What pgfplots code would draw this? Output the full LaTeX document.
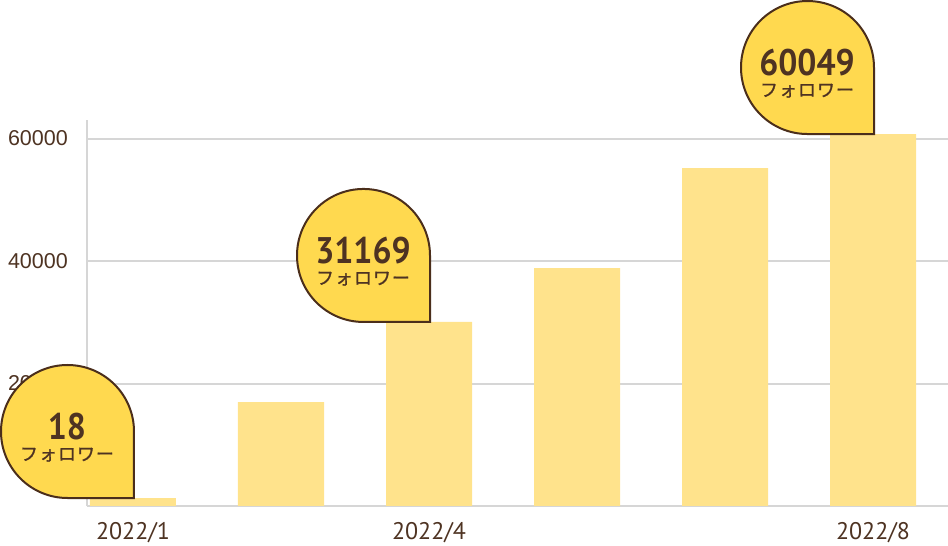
\documentclass[border=0pt]{standalone}
\usepackage{pgfplots}
\pgfplotsset{compat=1.18}
\usepackage{fontspec}
\setmainfont{PT Sans}
\newfontfamily\tickfont{Liberation Sans}
\newfontfamily\jp{Noto Sans CJK JP}[FakeBold=1.2]
\definecolor{barc}{HTML}{FFE38C}
\definecolor{callc}{HTML}{FFD94F}
\definecolor{brownc}{HTML}{4B2E1B}
\definecolor{textc}{HTML}{4E3322}
\definecolor{gridc}{HTML}{D6D6D6}
\begin{document}
\begin{tikzpicture}
\useasboundingbox (0pt,0pt) rectangle (948pt,546pt);
\begin{axis}[
  at={(87pt,40pt)}, anchor=south west,
  scale only axis, width=861pt, height=386pt,
  xmin=-0.3108, xmax=5.5068, ymin=0, ymax=63030,
  axis x line*=bottom, axis y line*=left,
  axis line style={draw=gridc, line width=2pt, -},
  ymajorgrids, major grid style={draw=gridc, line width=2pt},
  major tick length=0pt, scaled y ticks=false,
  ytick={20000,40000,60000}, yticklabels={20000,40000,60000},
  xtick={0,2,5}, xticklabels={2022/1,2022/4,2022/8},
  yticklabel style={font=\tickfont\fontsize{21.5}{22}\selectfont, text=textc, anchor=east, inner sep=0pt, xshift=-19pt},
  xticklabel style={font=\fontsize{24}{24}\selectfont, text=textc, anchor=north, inner sep=0pt, yshift=-16pt},
  clip=false,
]
\addplot[ybar, bar width=86pt, fill=barc, draw=none] coordinates {
  (0,1306) (1,16980) (2,30050) (3,38860) (4,55190) (5,60740)
};
\coordinate (c1) at (axis cs:0,1306);
\coordinate (c2) at (axis cs:2,30050);
\coordinate (c3) at (axis cs:5,60740);
\end{axis}
\foreach \c/\n in {c1/18, c2/31169, c3/60049}{
  \draw[fill=callc, draw=brownc, line width=2pt] ([xshift=1pt]\c) -- ++(0,66.5pt) arc[start angle=0, end angle=270, radius=66.5pt] -- cycle;
  \node[text=textc, font=\bfseries\fontsize{37}{37}\selectfont, inner sep=0pt, anchor=base] at ([shift={(-66pt,58.5pt)}]\c) {\scalebox{0.91}[1]{\n}};
  \node[text=textc, font=\jp\fontsize{18}{18}\selectfont, inner sep=0pt, text height=12pt, text depth=1pt, anchor=base] at ([shift={(-66pt,37.5pt)}]\c) {フ\hspace{1pt}ォ\hspace{1pt}ロ\hspace{1pt}ワ\hspace{1pt}ー};
}
\end{tikzpicture}
\end{document}
